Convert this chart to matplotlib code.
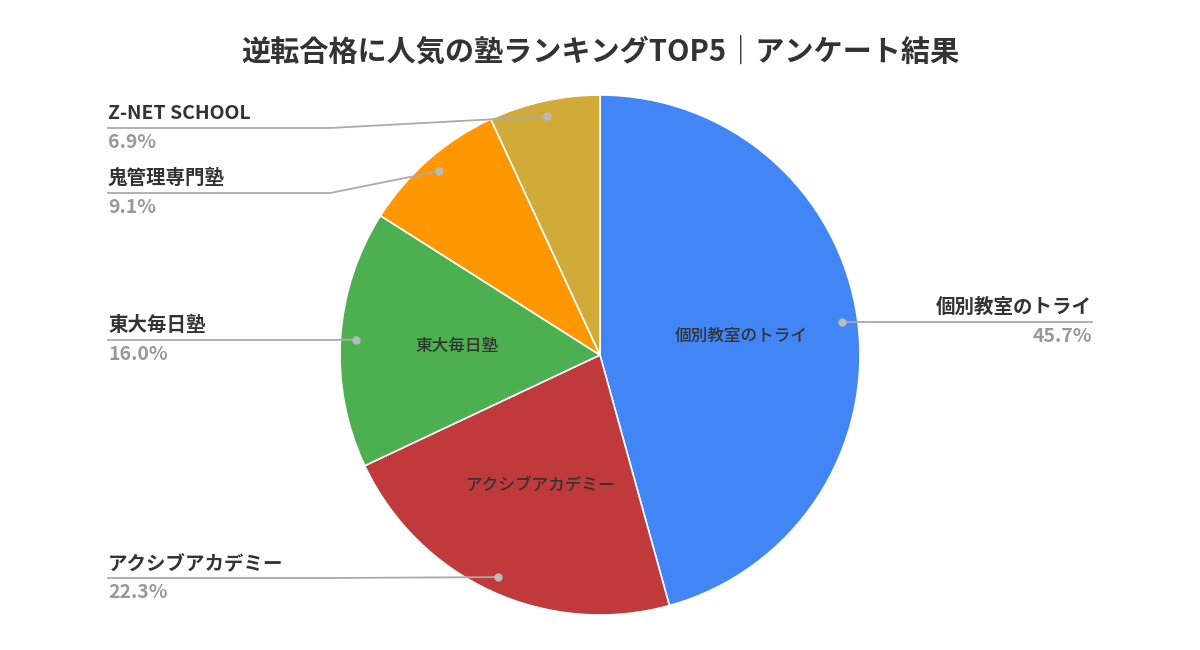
import matplotlib
matplotlib.use("Agg")
import matplotlib.pyplot as plt
import numpy as np

plt.rcParams['font.family'] = ['Noto Sans CJK JP', 'DejaVu Sans']

labels = ['個別教室のトライ', 'アクシブアカデミー', '東大毎日塾', '鬼管理専門塾', 'Z-NET SCHOOL']
values = [45.7, 22.3, 16.0, 9.1, 6.9]
colors = ['#4285f4', '#c0393b', '#4caf50', '#ff9800', '#d1ab38']
inner = [True, True, True, False, False]
label_y = [322, 578, 340, 193, 128]
side = ['R', 'L', 'L', 'L', 'L']

W, H = 1200, 650
cx, cy, R = 600, 355, 260
fig = plt.figure(figsize=(12, 6.5), dpi=100)
ax = fig.add_axes([0, 0, 1, 1])

wedges, _ = ax.pie(values, colors=colors, startangle=90, counterclock=False,
                   radius=1, wedgeprops=dict(edgecolor='white', linewidth=1.2))
ax.set_xlim(-cx / R, (W - cx) / R)
ax.set_ylim(-(H - cy) / R, cy / R)
ax.set_aspect('equal')
ax.axis('off')

def px(x, y):
    return ((x - cx) / R, (cy - y) / R)

for i, w in enumerate(wedges):
    ang = np.deg2rad((w.theta1 + w.theta2) / 2)
    if inner[i]:
        ax.text(0.55 * np.cos(ang), 0.55 * np.sin(ang), labels[i], ha='center', va='center',
                fontsize=12, fontweight='medium', color='#333333')
    dx, dy = 0.94 * np.cos(ang), 0.94 * np.sin(ang)
    ly = (cy - label_y[i]) / R
    if side[i] == 'R':
        ex = px(1092, 0)[0]
        ax.plot([dx, ex], [ly, ly], color='#aaaaaa', lw=1.3)
        ax.text(ex, ly + 0.02, labels[i], ha='right', va='bottom', fontsize=14,
                fontweight='bold', style='italic', color='#333333')
        ax.text(ex, ly - 0.02, f'{values[i]:.1f}%', ha='right', va='top', fontsize=14,
                fontweight='bold', style='italic', color='#999999')
    else:
        elbow = px(330, 0)[0]
        sx = px(108, 0)[0]
        if dx > elbow:
            ax.plot([dx, elbow, sx], [dy, ly, ly], color='#aaaaaa', lw=1.3)
        else:
            ax.plot([dx, sx], [ly, ly], color='#aaaaaa', lw=1.3)
        ax.text(sx, ly + 0.02, labels[i], ha='left', va='bottom', fontsize=14,
                fontweight='bold', style='italic', color='#333333')
        ax.text(sx, ly - 0.02, f'{values[i]:.1f}%', ha='left', va='top', fontsize=14,
                fontweight='bold', style='italic', color='#999999')
    ax.plot(dx, dy, 'o', color='#bbbbbb', ms=5)

fig.text(0.5, 1 - 52 / H, '逆転合格に人気の塾ランキングTOP5｜アンケート結果', ha='center', va='center',
         fontsize=21, fontweight='bold', color='#333333')
fig.savefig('out.png', dpi=100, facecolor='white')
